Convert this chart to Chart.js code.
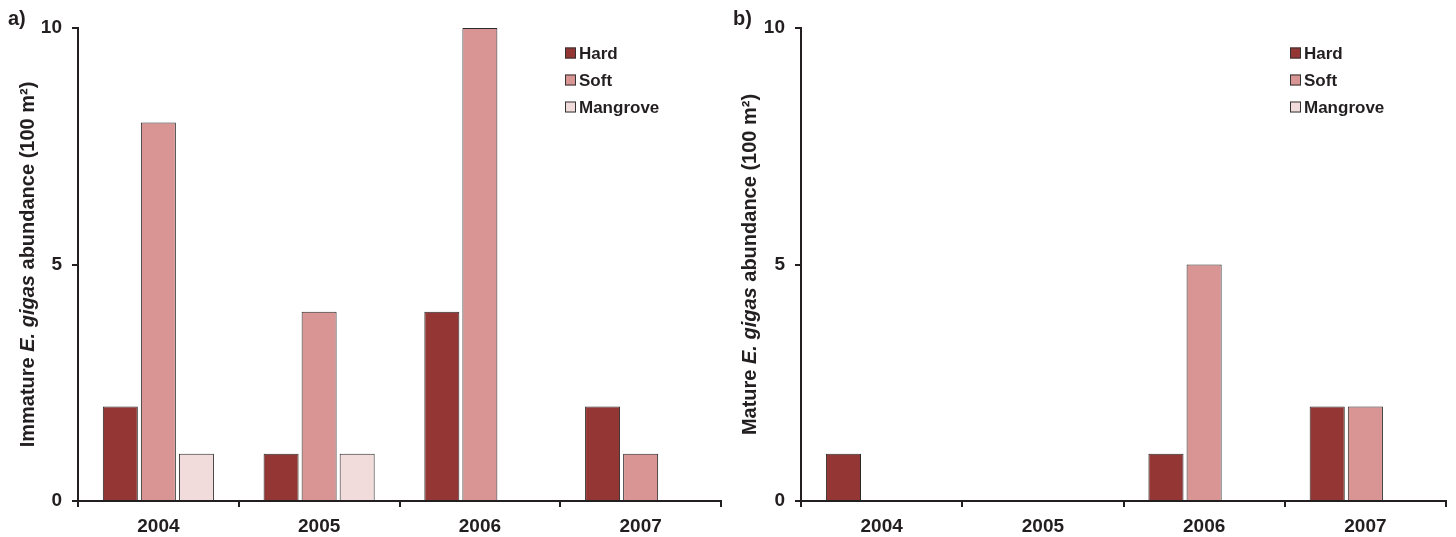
<!DOCTYPE html>
<html>
<head>
<meta charset="utf-8">
<script src="https://cdn.jsdelivr.net/npm/chart.js@4.4.1/dist/chart.umd.min.js"></script>
<style>
  html, body { margin: 0; padding: 0; background: #fff; }
  #wrap { position: relative; width: 1456px; height: 537px; }
  .pane { position: absolute; top: 0; width: 728px; height: 537px; }
  #pa { left: 0; }
  #pb { left: 728px; }
</style>
</head>
<body>
<div id="wrap">
  <div class="pane" id="pa"><canvas id="ca" width="728" height="537"></canvas></div>
  <div class="pane" id="pb"><canvas id="cb" width="728" height="537"></canvas></div>
</div>
<script>
const years = ["2004", "2005", "2006", "2007"];
const seriesNames = ["Hard", "Soft", "Mangrove"];
const immatureHard = [2, 1, 4, 2];
const immatureSoft = [8, 4, 10, 1];
const immatureMangrove = [1, 1, null, null];
const matureHard = [1, null, 1, 2];
const matureSoft = [null, null, 5, 2];
const matureMangrove = [null, null, null, null];
const yTicks = [0, 5, 10];
const colors = ["#943634", "#d99594", "#f2dcdb"];
const FONT = "'Liberation Sans', Arial, sans-serif";

function makeChart(canvasId, cfg) {
  const decor = {
    id: 'decor',
    afterDraw(chart) {
      const ctx = chart.ctx;
      const ca = chart.chartArea;
      ctx.save();
      // panel letter
      ctx.fillStyle = '#231f20';
      ctx.font = "bold 20px " + FONT;
      ctx.textBaseline = 'middle';
      ctx.textAlign = 'left';
      ctx.fillText(cfg.letter, cfg.letterX, 19);
      // legend
      ctx.font = "bold 17px " + FONT;
      chart.data.datasets.forEach((ds, i) => {
        const y = 53 + i * 27;
        ctx.fillStyle = ds.backgroundColor;
        ctx.fillRect(cfg.legendX, y - 5.5, 11, 11);
        ctx.strokeStyle = '#333';
        ctx.lineWidth = 1;
        ctx.strokeRect(cfg.legendX + 0.5, y - 5, 10, 10);
        ctx.fillStyle = '#231f20';
        ctx.fillText(ds.label, cfg.legendX + 14, y + 1);
      });
      // y title with mixed styles
      const parts = [
        { t: cfg.titleStart, f: "bold 20px " + FONT },
        { t: "E. gigas", f: "italic bold 20px " + FONT },
        { t: " abundance (100 m\u00B2)", f: "bold 20px " + FONT }
      ];
      let total = 0;
      parts.forEach(p => { ctx.font = p.f; p.w = ctx.measureText(p.t).width; total += p.w; });
      const cy = (ca.top + ca.bottom) / 2;
      ctx.translate(cfg.titleX, cy);
      ctx.rotate(-Math.PI / 2);
      let x = -total / 2;
      ctx.textAlign = 'left';
      ctx.textBaseline = 'middle';
      parts.forEach(p => { ctx.font = p.f; ctx.fillText(p.t, x, 0); x += p.w; });
      ctx.restore();
    }
  };

  return new Chart(document.getElementById(canvasId), {
    type: 'bar',
    data: {
      labels: years,
      datasets: cfg.series.map((d, i) => ({
        label: seriesNames[i],
        data: d,
        backgroundColor: colors[i],
        borderColor: '#2a2a2a',
        borderWidth: 1,
        categoryPercentage: 0.71,
        barPercentage: 0.92
      }))
    },
    options: {
      responsive: false,
      animation: false,
      layout: { padding: { top: 28, right: cfg.padRight, left: 0, bottom: 0 } },
      plugins: { legend: { display: false }, tooltip: { enabled: false } },
      scales: {
        x: {
          offset: true,
          grid: { display: true, drawOnChartArea: false, drawTicks: true, tickLength: 6, color: '#231f20', lineWidth: 2, offset: true },
          border: { display: true, color: '#231f20', width: 2 },
          ticks: { color: '#231f20', font: { family: FONT, size: 19, weight: 'bold' }, padding: 8 },
          afterFit(scale) { scale.height = 36; }
        },
        y: {
          min: 0, max: 10,
          afterBuildTicks(scale) { scale.ticks = yTicks.map(v => ({ value: v })); },
          grid: { display: true, drawOnChartArea: false, drawTicks: true, tickLength: 6, color: '#231f20', lineWidth: 2 },
          border: { display: true, color: '#231f20', width: 2 },
          ticks: { color: '#231f20', font: { family: FONT, size: 19, weight: 'bold' }, padding: 10 },
          afterFit(scale) { scale.width = cfg.yWidth; }
        }
      }
    },
    plugins: [decor]
  });
}

makeChart('ca', {
  series: [immatureHard, immatureSoft, immatureMangrove],
  letter: 'a)', letterX: 8, legendX: 565, titleX: 28, titleStart: 'Immature ',
  yWidth: 78, padRight: 7
});
makeChart('cb', {
  series: [matureHard, matureSoft, matureMangrove],
  letter: 'b)', letterX: 5, legendX: 562, titleX: 22, titleStart: 'Mature ',
  yWidth: 73, padRight: 10
});
</script>
</body>
</html>
